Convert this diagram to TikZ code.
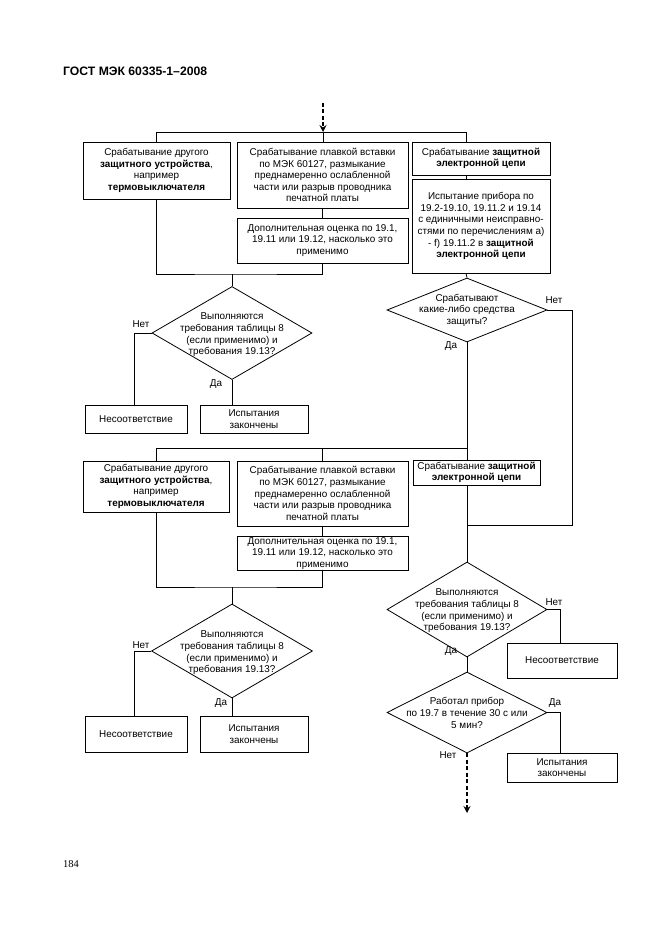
\documentclass[tikz,border=0pt]{standalone}
\usepackage{fontspec}
\setmainfont{Liberation Sans}
\newfontfamily\seriffont{Liberation Serif}
\usetikzlibrary{shapes.geometric,arrows.meta,calc}
\tikzset{
  box/.style={draw,line width=0.8pt,align=center,inner sep=1pt,font=\fontsize{9.9}{11.6}\selectfont},
  dia/.style={draw,line width=0.8pt,shape=diamond,inner sep=0pt},
  diatext/.style={align=center,inner sep=0pt,font=\fontsize{9.9}{11.6}\selectfont},
  lbl/.style={inner sep=0pt,font=\fontsize{9.9}{11.6}\selectfont},
  conn/.style={line width=0.8pt},
  dasharrow/.style={line width=2pt,dash pattern=on 4pt off 2.5pt,-{Stealth[length=7pt,width=7pt,inset=2.5pt]}}
}
\begin{document}
\begin{tikzpicture}[x=1pt,y=-1pt]
\useasboundingbox (0,0) rectangle (661,936);
\fill[white] (0,0) rectangle (661,936);
% header and page number
\node[anchor=base west,inner sep=0pt,font=\fontsize{12.2}{14}\selectfont\bfseries] (hdr) at (63,76) {ГОСТ МЭК 60335-1–2008};
\node[anchor=base west,inner sep=0pt,font=\seriffont\fontsize{10.5}{12}\selectfont] (pg) at (63,867) {184};

% ---------- first block ----------
\node[box,minimum width=147pt,minimum height=57pt] (A) at (156.5,170.5) {Срабатывание другого\\\textbf{защитного устройства},\\например\\\textbf{термовыключателя}};
\node[box,minimum width=171pt,minimum height=66pt] (B) at (322.5,175) {Срабатывание плавкой вставки\\по МЭК 60127, размыкание\\преднамеренно ослабленной\\части или разрыв проводника\\печатной платы};
\node[box,minimum width=171pt,minimum height=45pt] (B2) at (322.5,240.5) {Дополнительная оценка по 19.1,\\19.11 или 19.12, насколько это\\применимо};
\node[box,minimum width=138pt,minimum height=33pt] (C) at (481,158.5) {Срабатывание \textbf{защитной}\\\textbf{электронной цепи}};
\node[box,minimum width=138pt,minimum height=94pt] (C2) at (481,226) {Испытание прибора по\\19.2-19.10, 19.11.2 и 19.14\\с единичными неисправно-\\стями по перечислениям а)\\- f) 19.11.2 в \textbf{защитной}\\\textbf{электронной цепи}};

\coordinate (start) at (323,103);
\coordinate (t1) at (323,132);
\coordinate (t3) at (466,132);
\draw[dasharrow] (start) -- (t1);
\draw[conn] (A.north) |- (t3) -- (t3 |- C.north);
\draw[conn] (t1) -- (t1 |- B.north);
\draw[conn] (B.south) -- (B2.north);
\draw[conn] (C.south -| t3) -- (C2.north -| t3);

\coordinate (b1) at (232,274);
\draw[conn] (A.south) |- (b1) -| (B2.south);

% diamond 1
\node[dia,minimum width=160pt,minimum height=93pt] (d1) at (232,333) {};
\node[diatext] (d1t) at (232,335) {Выполняются\\требования таблицы 8\\(если применимо) и\\требования 19.13?};
\draw[conn] (b1) -- (d1.north);
\node[box,minimum width=102pt,minimum height=28pt] (N1) at (136,419) {Несоответствие};
\node[box,minimum width=108pt,minimum height=28pt] (Y1) at (254,419) {Испытания\\закончены};
\draw[conn] (d1.west) -| (N1.north -| 134,0);
\draw[conn] (d1.south) -- (d1.south |- Y1.north);
\node[lbl] (l1n) at (141,324) {Нет};
\node[lbl] (l1y) at (216,384) {Да};

% diamond 2
\node[dia,minimum width=160pt,minimum height=64pt] (d2) at (467,310) {};
\node[diatext] (d2t) at (467,310) {Срабатывают\\какие-либо средства\\защиты?};
\draw[conn] (t3 |- C2.south) -- (d2.north);
\node[lbl] (l2n) at (554,300) {Нет};
\node[lbl] (l2y) at (451,346) {Да};

% ---------- second block ----------
\node[box,minimum width=146pt,minimum height=51pt] (A2) at (156,486.5) {Срабатывание другого\\\textbf{защитного устройства},\\например\\\textbf{термовыключателя}};
\node[box,minimum width=171pt,minimum height=65pt] (B3) at (322.5,493.5) {Срабатывание плавкой вставки\\по МЭК 60127, размыкание\\преднамеренно ослабленной\\части или разрыв проводника\\печатной платы};
\node[box,minimum width=171pt,minimum height=33pt] (B4) at (322.5,553.5) {Дополнительная оценка по 19.1,\\19.11 или 19.12, насколько это\\применимо};
\node[box,minimum width=127pt,minimum height=25pt] (D) at (476.5,472.5) {Срабатывание \textbf{защитной}\\\textbf{электронной цепи}};

\coordinate (m1) at (157,448);
\draw[conn] (d2.south) -- (d2.south |- D.north);
\draw[conn] (m1 -| d2.south) -| (A2.north);
\draw[conn] (m1 -| B3.north) -- (B3.north);
\draw[conn] (B3.south) -- (B4.north);

\coordinate (r1) at (572,525);
\draw[conn] (d2.east) -| (r1) -- (r1 -| d2.south);

\coordinate (b2) at (232,587);
\draw[conn] (A2.south) |- (b2) -| (B4.south);

% diamond 3
\node[dia,minimum width=161pt,minimum height=94pt] (d3) at (232,651) {};
\node[diatext] (d3t) at (232,653) {Выполняются\\требования таблицы 8\\(если применимо) и\\требования 19.13?};
\draw[conn] (b2) -- (d3.north);
\node[box,minimum width=102pt,minimum height=36pt] (N3) at (136,734) {Несоответствие};
\node[box,minimum width=108pt,minimum height=36pt] (Y3) at (254,734) {Испытания\\закончены};
\draw[conn] (d3.west) -| (N3.north -| 134,0);
\draw[conn] (d3.south) -- (d3.south |- Y3.north);
\node[lbl] (l3n) at (141,645) {Нет};
\node[lbl] (l3y) at (221,703) {Да};

% diamond 4
\node[dia,minimum width=160pt,minimum height=95pt] (d4) at (467,609.5) {};
\node[diatext] (d4t) at (467,611) {Выполняются\\требования таблицы 8\\(если применимо) и\\требования 19.13?};
\draw[conn] (d2.south |- D.south) -- (d4.north);
\node[box,minimum width=110pt,minimum height=35pt] (N4) at (562,660.5) {Несоответствие};
\draw[conn] (d4.east) -| (N4.north -| 560,0);
\node[lbl] (l4n) at (554,602) {Нет};
\node[lbl] (l4y) at (451,651) {Да};

% diamond 5
\node[dia,minimum width=160pt,minimum height=81pt] (d5) at (467,712.5) {};
\node[diatext] (d5t) at (467,713) {Работал прибор\\по 19.7 в течение 30 с или\\5 мин?};
\draw[conn] (d4.south) -- (d5.north);
\node[box,minimum width=110pt,minimum height=29pt] (Y5) at (562,767.5) {Испытания\\закончены};
\draw[conn] (d5.east) -| (Y5.north -| 560,0);
\node[lbl] (l5y) at (555,703) {Да};
\node[lbl] (l5n) at (448,755) {Нет};
\coordinate (endp) at (467,813);
\draw[dasharrow] (d5.south) -- (endp);
\end{tikzpicture}
\end{document}
